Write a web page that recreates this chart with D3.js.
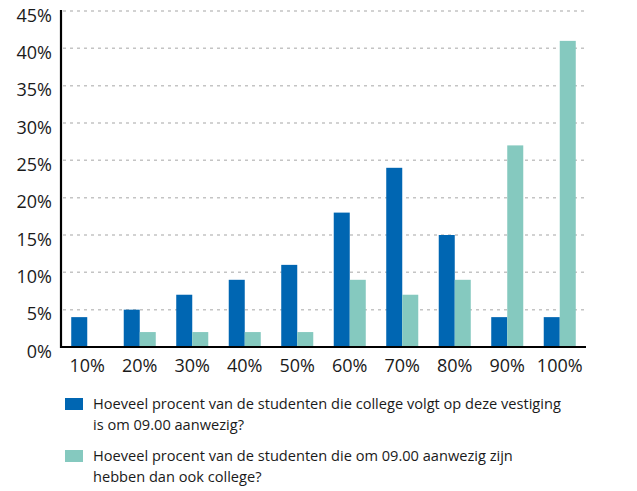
<!DOCTYPE html>
<html>
<head>
<meta charset="utf-8">
<script src="https://cdn.jsdelivr.net/npm/d3@7"></script>
<style>
  body { margin: 0; background: #fff; }
  text { font-family: "Open Sans", sans-serif; fill: #1a1a1a; }
</style>
</head>
<body>
<svg width="637" height="491"></svg>
<script>
// categories and values (percent)
var categories = ["10%", "20%", "30%", "40%", "50%", "60%", "70%", "80%", "90%", "100%"];
var aanwezig = [4, 5, 7, 9, 11, 18, 24, 15, 4, 4];
var college = [0, 2, 2, 2, 2, 9, 7, 9, 27, 41];
var yTicks = [0, 5, 10, 15, 20, 25, 30, 35, 40, 45];
var legendLines = [
  ["Hoeveel procent van de studenten die college volgt op deze vestiging", "is om 09.00 aanwezig?"],
  ["Hoeveel procent van de studenten die om 09.00 aanwezig zijn", "hebben dan ook college?"]
];
var colors = ["#0066b2", "#85c9bf"];

var svg = d3.select("svg");
var plotLeft = 61, plotRight = 586, plotTop = 11, plotBottom = 347;

var x = d3.scaleBand().domain(categories).range([plotLeft, plotRight]).padding(0);
var y = d3.scaleLinear().domain([0, 45]).range([plotBottom, plotTop]);
var groupW = x.bandwidth() * 0.61;
var barW = groupW / 2;

// gridlines
svg.append("g").selectAll("line")
  .data(yTicks.filter(function(d) { return d > 0; }))
  .enter().append("line")
  .attr("x1", plotLeft + 2).attr("x2", 584)
  .attr("y1", function(d) { return y(d); })
  .attr("y2", function(d) { return y(d); })
  .style("stroke", "#c4c4c4")
  .style("stroke-width", 1.5)
  .style("stroke-dasharray", "3,4");

// y labels (sit just below their gridline, like the original)
svg.append("g").selectAll("text")
  .data(yTicks)
  .enter().append("text")
  .attr("x", 52)
  .attr("y", function(d) { return y(d); })
  .attr("dy", "0.6em")
  .attr("text-anchor", "end")
  .style("font-size", "18px")
  .text(function(d) { return d + "%"; });

// bars
var series = [aanwezig, college];
series.forEach(function(vals, s) {
  svg.append("g").selectAll("rect")
    .data(vals)
    .enter().append("rect")
    .attr("x", function(d, i) { return x(categories[i]) + (x.bandwidth() - groupW) / 2 + s * barW; })
    .attr("y", function(d) { return y(d); })
    .attr("width", barW)
    .attr("height", function(d) { return plotBottom - y(d); })
    .style("fill", colors[s]);
});

// axes lines
svg.append("line").attr("x1", plotLeft).attr("x2", plotLeft).attr("y1", plotTop - 1).attr("y2", plotBottom + 1)
  .style("stroke", "#000").style("stroke-width", 2.2);
svg.append("line").attr("x1", plotLeft).attr("x2", plotRight).attr("y1", plotBottom).attr("y2", plotBottom)
  .style("stroke", "#000").style("stroke-width", 2.2);

// x labels
svg.append("g").selectAll("text")
  .data(categories)
  .enter().append("text")
  .attr("x", function(d) { return x(d) + x.bandwidth() / 2; })
  .attr("y", 372)
  .attr("text-anchor", "middle")
  .style("font-size", "18px")
  .text(function(d) { return d; });

// legend
var legend = svg.append("g").selectAll("g")
  .data(legendLines)
  .enter().append("g")
  .attr("transform", function(d, i) { return "translate(0," + (i * 52) + ")"; });

legend.append("rect")
  .attr("x", 65).attr("y", 398)
  .attr("width", 18).attr("height", 12)
  .style("fill", function(d, i) { return colors[i]; });

legend.append("text")
  .attr("x", 93).attr("y", 409)
  .style("font-size", "14.6px")
  .selectAll("tspan")
  .data(function(d) { return d; })
  .enter().append("tspan")
  .attr("x", 93)
  .attr("dy", function(d, i) { return i == 0 ? 0 : 21; })
  .text(function(d) { return d; });
</script>
</body>
</html>
